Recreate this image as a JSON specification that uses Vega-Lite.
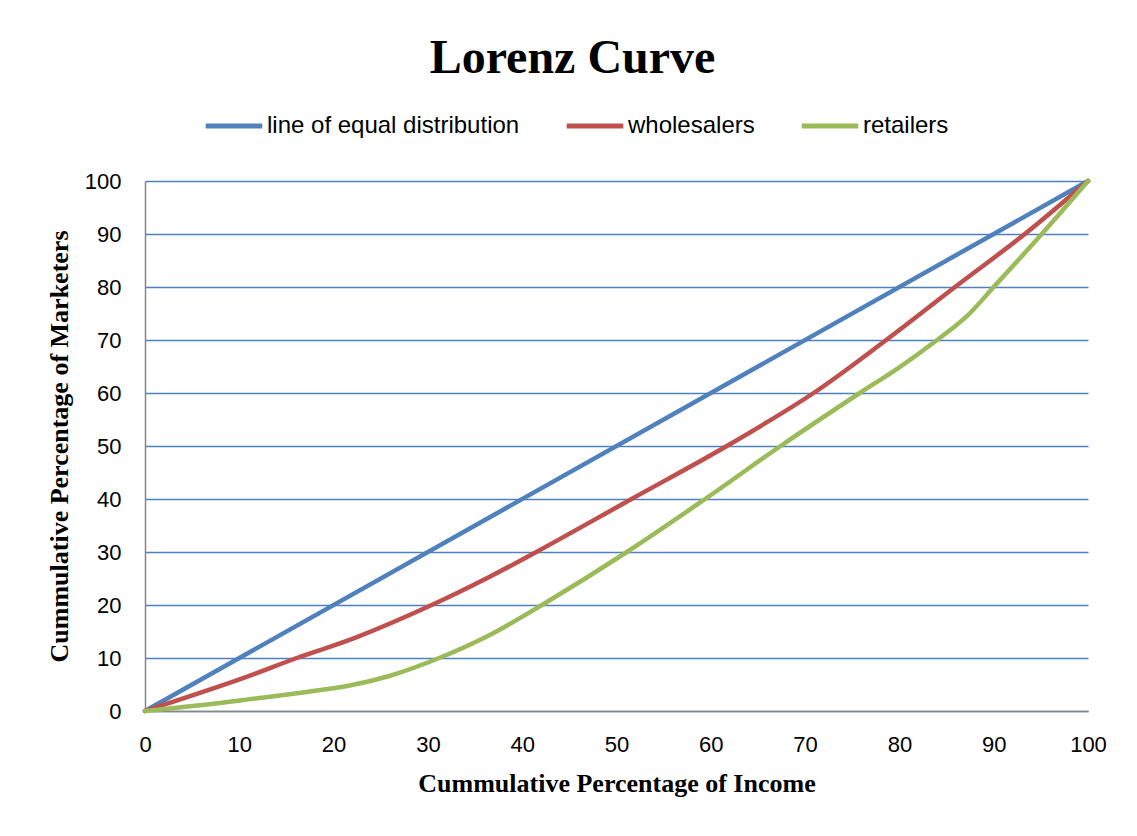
{
  "$schema": "https://vega.github.io/schema/vega-lite/v6.json",
  "width": 943,
  "height": 530,
  "autosize": {"type": "none"},
  "padding": {"left": 145, "top": 181, "right": 49, "bottom": 125},
  "background": "white",
  "title": {
    "text": "Lorenz Curve",
    "font": "Liberation Serif",
    "fontSize": 48,
    "fontWeight": "bold",
    "color": "black",
    "anchor": "middle",
    "dx": -44,
    "offset": 12
  },
  "data": {
    "values": [
      {"series": "line of equal distribution", "x": 0, "y": 0},
      {"series": "line of equal distribution", "x": 100, "y": 100},
      {"series": "wholesalers", "x": 0, "y": 0},
      {"series": "wholesalers", "x": 10.1, "y": 6},
      {"series": "wholesalers", "x": 16.1, "y": 10},
      {"series": "wholesalers", "x": 22.4, "y": 13.9},
      {"series": "wholesalers", "x": 30.4, "y": 20},
      {"series": "wholesalers", "x": 36.4, "y": 25.2},
      {"series": "wholesalers", "x": 41.5, "y": 30},
      {"series": "wholesalers", "x": 51.6, "y": 40},
      {"series": "wholesalers", "x": 61.7, "y": 50},
      {"series": "wholesalers", "x": 70.9, "y": 60},
      {"series": "wholesalers", "x": 78.6, "y": 70},
      {"series": "wholesalers", "x": 85.9, "y": 80},
      {"series": "wholesalers", "x": 93.3, "y": 90},
      {"series": "wholesalers", "x": 100, "y": 100},
      {"series": "retailers", "x": 0, "y": 0},
      {"series": "retailers", "x": 10.1, "y": 2},
      {"series": "retailers", "x": 21.7, "y": 4.8},
      {"series": "retailers", "x": 25.9, "y": 6.6},
      {"series": "retailers", "x": 31.2, "y": 10},
      {"series": "retailers", "x": 36.4, "y": 14.2},
      {"series": "retailers", "x": 42.1, "y": 20},
      {"series": "retailers", "x": 51.1, "y": 30},
      {"series": "retailers", "x": 59.4, "y": 40},
      {"series": "retailers", "x": 67.4, "y": 50},
      {"series": "retailers", "x": 75.8, "y": 60},
      {"series": "retailers", "x": 79.8, "y": 64.6},
      {"series": "retailers", "x": 84, "y": 70},
      {"series": "retailers", "x": 87.1, "y": 74.4},
      {"series": "retailers", "x": 90, "y": 80},
      {"series": "retailers", "x": 95.1, "y": 90},
      {"series": "retailers", "x": 100, "y": 100}
    ]
  },
  "mark": {"type": "line", "strokeWidth": 4.5, "interpolate": "catmull-rom", "strokeCap": "round"},
  "encoding": {
    "x": {
      "field": "x",
      "type": "quantitative",
      "scale": {"domain": [0, 100], "nice": false},
      "axis": {
        "title": "Cummulative Percentage of Income",
        "titleFont": "Liberation Serif",
        "titleFontSize": 26,
        "titleFontWeight": "bold",
        "titleColor": "black",
        "titlePadding": 15,
        "values": [0, 10, 20, 30, 40, 50, 60, 70, 80, 90, 100],
        "labelFont": "Liberation Sans",
        "labelFontSize": 22,
        "labelColor": "black",
        "labelPadding": 23,
        "ticks": false,
        "grid": false,
        "domainColor": "#868686",
        "domainWidth": 1.5,
        "labelFlush": false
      }
    },
    "y": {
      "field": "y",
      "type": "quantitative",
      "scale": {"domain": [0, 100], "nice": false},
      "axis": {
        "title": "Cummulative Percentage of Marketers",
        "titleFont": "Liberation Serif",
        "titleFontSize": 26,
        "titleFontWeight": "bold",
        "titleColor": "black",
        "titlePadding": 12,
        "values": [0, 10, 20, 30, 40, 50, 60, 70, 80, 90, 100],
        "labelFont": "Liberation Sans",
        "labelFontSize": 22,
        "labelColor": "black",
        "labelPadding": 24,
        "ticks": false,
        "grid": true,
        "gridColor": "#4F81BD",
        "gridWidth": 1.5,
        "gridOpacity": 1,
        "domainColor": "#868686",
        "domainWidth": 1.5,
        "labelFlush": false
      }
    },
    "color": {
      "field": "series",
      "type": "nominal",
      "sort": ["line of equal distribution", "wholesalers", "retailers"],
      "scale": {
        "domain": ["line of equal distribution", "wholesalers", "retailers"],
        "range": ["#4F81BD", "#C0504D", "#9BBB59"]
      },
      "legend": {
        "title": null,
        "orient": "none",
        "direction": "horizontal",
        "legendX": 58,
        "legendY": -86,
        "symbolType": "stroke",
        "symbolSize": 3200,
        "symbolStrokeWidth": 5,
        "labelFont": "Liberation Sans",
        "labelFontSize": 24,
        "labelColor": "black",
        "labelOffset": 2,
        "columnPadding": 36,
        "labelLimit": 400
      }
    }
  },
  "config": {
    "view": {"stroke": null}
  }
}
